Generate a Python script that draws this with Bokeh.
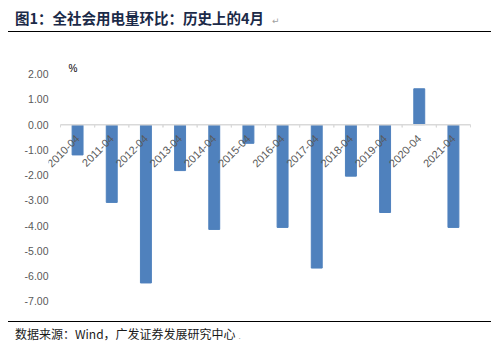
from math import pi
from bokeh.plotting import figure
from bokeh.models import (Range1d, FactorRange, FixedTicker, NumeralTickFormatter,
                          Label, ColumnDataSource, Div)
from bokeh.layouts import column
from bokeh.transform import dodge
from bokeh.core.properties import value
from bokeh.embed import file_html
from bokeh.resources import INLINE

# ---- data ----
months = ["2010-04", "2011-04", "2012-04", "2013-04", "2014-04", "2015-04",
          "2016-04", "2017-04", "2018-04", "2019-04", "2020-04", "2021-04"]
mom_change = [-1.20, -3.08, -6.27, -1.82, -4.15, -0.74,
              -4.07, -5.68, -2.04, -3.48, 1.42, -4.07]
y_ticks = [2, 1, 0, -1, -2, -3, -4, -5, -6, -7]
title_text = "图1：全社会用电量环比：历史上的4月"
source_text = "数据来源：Wind，广发证券发展研究中心"
unit_text = "%"

W = 491
HEAD_H, MAIN_H, FOOT_H = 36, 282, 33
CJK = "Noto Sans CJK SC"
LAT = "Liberation Sans"

# ---- header ----
header = Div(width=W, height=HEAD_H, margin=0, text=(
    f'<div style="position:relative;width:{W}px;height:{HEAD_H}px;">'
    f'<div style="position:absolute;left:15px;top:7px;line-height:22px;white-space:nowrap;'
    f'font-family:\'{CJK}\';font-weight:bold;font-size:14.5px;color:#1B2A48;">{title_text}'
    f'<span style="font-family:\'DejaVu Sans\';font-weight:normal;font-size:9px;color:#A0A0A0;'
    f'margin-left:8px;">↵</span></div>'
    f'<div style="position:absolute;left:8px;top:31px;width:{W - 8}px;height:1px;background:#000;"></div>'
    f'</div>'))

# ---- main chart ----
src = ColumnDataSource(dict(m=months, v=mom_change, zero=[0] * len(months)))
ends = ColumnDataSource(dict(a=[months[0]], b=[months[-1]]))
n = len(months)
p = figure(width=W, height=MAIN_H,
           x_range=FactorRange(*months, range_padding=0.702 / n, range_padding_units="percent"),
           y_range=Range1d(-7.4, 2.5),
           output_backend="svg", toolbar_location=None,
           min_border_left=48, min_border_right=9, min_border_top=25, min_border_bottom=7)
p.grid.visible = False
p.outline_line_color = None
p.xaxis.visible = False

p.vbar(x="m", top="v", bottom=0, width=0.32, color="#4F81BD", source=src)

# category axis line at zero + boundary tick marks
p.segment(x0=dodge("a", -0.5, range=p.x_range), y0=0, x1=dodge("b", 0.5, range=p.x_range),
          y1=0, source=ends, line_color="#D9D9D9", line_width=1.5)
p.segment(x0=dodge("m", -0.5, range=p.x_range), y0=0, x1=dodge("m", -0.5, range=p.x_range),
          y1=-0.11, source=src, line_color="#D9D9D9", line_width=1)
p.segment(x0=dodge("m", 0.5, range=p.x_range), y0=0, x1=dodge("m", 0.5, range=p.x_range),
          y1=-0.11, source=src, line_color="#D9D9D9", line_width=1)

# rotated category labels hanging below the zero line
p.text(x="m", y="zero", text="m", source=src, angle=pi / 4,
       text_align="right", text_baseline="middle", x_offset=0, y_offset=12,
       text_font=value(LAT), text_font_size="11px", text_color="#595959")

ya = p.yaxis[0]
ya.ticker = FixedTicker(ticks=y_ticks)
ya.formatter = NumeralTickFormatter(format="0.00")
ya.axis_line_color = None
ya.major_tick_in = 0
ya.major_tick_out = 0
ya.minor_tick_in = 0
ya.minor_tick_out = 0
ya.major_label_text_font = LAT
ya.major_label_text_font_size = "10.5px"
ya.major_label_text_color = "#595959"
ya.major_label_standoff = 0

p.add_layout(Label(x=20, x_units="screen", y=2.24, text=unit_text, text_font=LAT,
                   text_font_size="10px", text_color="#000000", text_baseline="middle"))

# ---- footer ----
footer = Div(width=W, height=FOOT_H, margin=0, text=(
    f'<div style="position:relative;width:{W}px;height:{FOOT_H}px;">'
    f'<div style="position:absolute;left:8px;top:3px;width:{W - 8}px;height:1px;background:#000;"></div>'
    f'<div style="position:absolute;left:15px;top:6px;line-height:20px;white-space:nowrap;'
    f'font-family:\'{CJK}\';font-size:12px;color:#1A1A1A;">{source_text}'
    f'<span style="font-size:8px;color:#A0A0A0;margin-left:3px;">.</span></div>'
    f'</div>'))

layout = column(header, p, footer, spacing=0)
open("out.html", "w").write(file_html(layout, INLINE))
